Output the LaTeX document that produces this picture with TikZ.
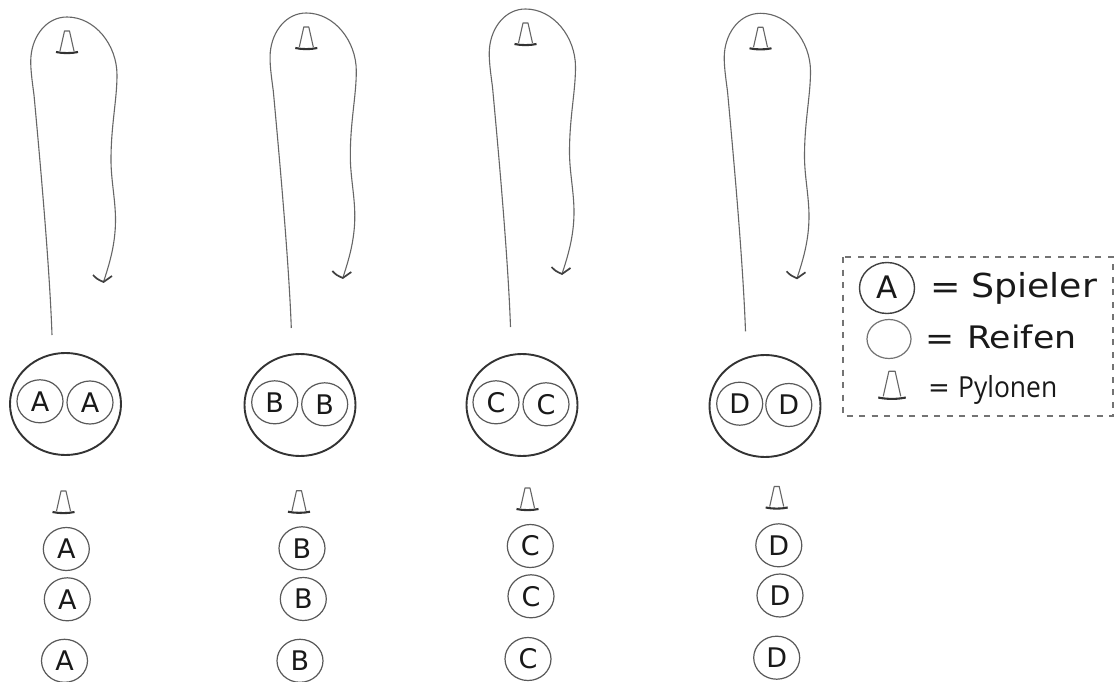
\documentclass[tikz,border=0pt]{standalone}
\usepackage{fontspec}
\setmainfont{DejaVu Sans}
\newfontfamily\pylfont{Open Sans}
\tikzset{
  x=1pt,y=-1pt,
  ink/.style={draw=black!65},
  route/.style={draw=black!60,line width=1.1pt},
  hoop/.style={draw=black!80,line width=1.9pt},
  coneline/.style={draw=black!60,line width=1.1pt,line join=round},
  conebase/.style={draw=black!80,line width=2.1pt},
  tiparm/.style={draw=black!75,line width=1.7pt},
  legendbox/.style={draw=black!55,line width=1.5pt,dash pattern=on 6pt off 6.5pt},
  lbl/.style={inner sep=0pt,anchor=center,text=black!90},
  legtext/.style={inner sep=0pt,anchor=base west,text=black!90},
}
\newcommand{\conepic}[3]{% name, x, y
  \coordinate (#1) at (#2,#3);
  \draw[coneline] (#2-7,#3+9) -- (#2-2.5,#3-11) -- (#2+2.5,#3-11) -- (#2+7,#3+9);
  \draw[conebase] (#2-11,#3+10) .. controls (#2-4,#3+11.5) and (#2+4,#3+11.5) .. (#2+11,#3+10);
}
\newcommand{\playerat}[4]{% name,x,y,letter
  \node[lbl,font=\fontsize{27}{27}\selectfont] (#1) at (#2,#3) {#4};
  \draw[ink,line width=1.2pt] (#2,#3) ellipse [x radius=23,y radius=21.5];
}
\begin{document}
\begin{tikzpicture}
\useasboundingbox (0,0) rectangle (1114,682);
\fill[white] (0,0) rectangle (1114,682);
\foreach \L/\dx/\dy/\sy/\hx/\hy/\il/\ily/\ir/\iry/\cx/\cy/\ax/\ay/\bx/\by/\ex/\ey in {
  A/0/0/335/65.5/404/40/401.3/90/402.5/63.5/502/66.3/549/67.3/599.3/64.5/660.8,
  B/239.3/-4/332/300/405/274.7/402.3/324.7/404.3/299/501.7/302/548.3/303.3/599/300/660.8,
  C/458.5/-8/335/522/405/496/402.3/546/404.3/527.5/499/530.3/546/531/596.3/528/659,
  D/693.5/-3.7/335/765/406/739.7/403.7/788.8/405/776.7/497.5/778.8/545.3/780/595.5/776.7/657.7}{
  \begin{scope}[shift={(\dx,\dy)}]
    \coordinate (start\L) at (52,\sy);
    \coordinate (tip\L) at (103.5,282);
    \draw[route] (start\L) .. controls (49.5,265) and (40,160) .. (34,95)
      .. controls (32,80) and (30,66) .. (31,56)
      .. controls (33,35) and (47,17) .. (67,17)
      .. controls (95,17) and (117,45) .. (117,75)
      .. controls (117,100) and (111,125) .. (111,160)
      .. controls (111,180) and (115.5,200) .. (115.5,220)
      .. controls (115.5,245) and (109,265) .. (tip\L);
    \draw[tiparm] (93,275) .. controls (97,279) .. (tip\L) .. controls (107,279) .. (112,276);
    \conepic{top\L}{67}{42}
  \end{scope}
  \draw[hoop] (\hx,\hy) ellipse [x radius=55.5,y radius=51];
  \playerat{in\L1}{\il}{\ily}{\L}
  \playerat{in\L2}{\ir}{\iry}{\L}
  \conepic{low\L}{\cx}{\cy}
  \playerat{p\L1}{\ax}{\ay}{\L}
  \playerat{p\L2}{\bx}{\by}{\L}
  \playerat{p\L3}{\ex}{\ey}{\L}
}
% legend
\draw[legendbox] (843,257) rectangle (1113,416);
\node[lbl,font=\fontsize{31}{31}\selectfont] (legA) at (887,287) {A};
\draw[draw=black!75,line width=1.4pt] (887,288) ellipse [x radius=27.5,y radius=25.5];
\draw[draw=black!55,line width=1.2pt] (889,339) ellipse [x radius=22,y radius=19.5];
\begin{scope}[shift={(892,385)},scale=1.25]
  \conepic{legcone}{0}{0}
\end{scope}
\node[legtext,font=\fontsize{33}{33}\selectfont,xscale=1.1] (eq1) at (930,298) {=};
\node[legtext,font=\fontsize{33}{33}\selectfont,xscale=1.1] (spieler) at (971,297) {Spieler};
\node[legtext,font=\fontsize{31}{31}\selectfont,xscale=1.12] (eq2) at (925,349) {=};
\node[legtext,font=\fontsize{31}{31}\selectfont,xscale=1.12] (reifen) at (967,348) {Reifen};
\node[legtext,font=\fontsize{26}{26}\selectfont] (eq3) at (928,396) {=};
\node[legtext,font=\pylfont\fontsize{29}{29}\selectfont,xscale=0.91] (pylonen) at (958,397) {Pylonen};
\end{tikzpicture}
\end{document}
